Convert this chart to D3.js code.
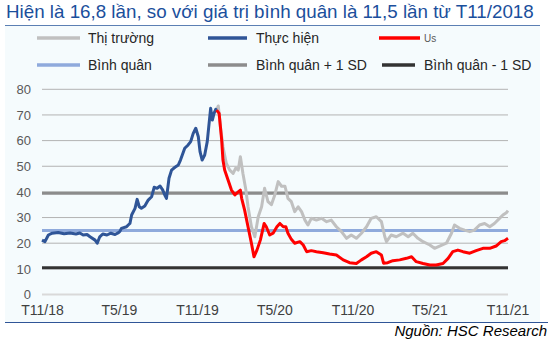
<!DOCTYPE html>
<html>
<head>
<meta charset="utf-8">
<script src="https://cdn.jsdelivr.net/npm/d3@7"></script>
<style>
  body { margin: 0; background: #fff; }
  svg { display: block; font-family: "Liberation Sans", Arial, sans-serif; }
</style>
</head>
<body>
<div id="chart"></div>
<script>
// Chart values
const titleText = 'Hiện là 16,8 lần, so với giá trị bình quân là 11,5 lần từ T11/2018';
const sourceText = 'Nguồn: HSC Research';

const yTicks = [0, 10, 20, 30, 40, 50, 60, 70, 80];
const xTickDates = ['2018-11-01', '2019-05-01', '2019-11-01', '2020-05-01', '2020-11-01', '2021-05-01', '2021-11-01'];
const xTickLabels = ['T11/18', 'T5/19', 'T11/19', 'T5/20', 'T11/20', 'T5/21', 'T11/21'];

const meanValue = 25;
const plusSdValue = 39.5;
const minusSdValue = 10.45;

// Thực hiện (blue)
const actualDates = ['2018-11-01','2018-11-08','2018-11-16','2018-11-25','2018-12-09','2018-12-23','2019-01-06','2019-01-20','2019-01-29','2019-02-06','2019-02-15','2019-02-22','2019-03-06','2019-03-11','2019-03-17','2019-03-24','2019-04-03','2019-04-12','2019-04-22','2019-04-29','2019-05-03','2019-05-07','2019-05-19','2019-05-23','2019-05-27','2019-05-31','2019-06-08','2019-06-13','2019-06-18','2019-06-23','2019-07-01','2019-07-09','2019-07-17','2019-07-23','2019-07-30','2019-08-06','2019-08-12','2019-08-17','2019-08-21','2019-08-27','2019-09-02','2019-09-10','2019-09-18','2019-09-23','2019-10-03','2019-10-11','2019-10-17','2019-10-23','2019-10-29','2019-11-04','2019-11-08','2019-11-13','2019-11-19','2019-11-25','2019-11-29','2019-12-03','2019-12-07','2019-12-11','2019-12-15','2019-12-17'];
const actualValues = [21.2,20.6,23.2,23.9,24.2,23.7,24.0,23.6,24.0,23.2,23.4,22.5,21.2,20.0,22.5,23.6,23.2,23.9,23.4,24.0,24.5,25.8,26.4,27.1,27.7,31.0,33.6,37.1,34.2,33.6,34.5,36.8,38.1,41.8,41.4,42.3,40.8,38.8,37.5,45.3,48.5,49.6,50.5,52.4,57.0,58.3,59.6,62.8,64.8,61.5,55.7,52.4,54.4,59.6,66.1,72.6,68.0,70.6,72.2,71.9];

// Us (red)
const usDates = ['2019-12-17','2019-12-23','2019-12-29','2020-01-01','2020-01-05','2020-01-13','2020-01-21','2020-01-29','2020-02-06','2020-02-11','2020-02-14','2020-02-21','2020-02-29','2020-03-08','2020-03-14','2020-03-21','2020-03-29','2020-04-07','2020-04-12','2020-04-20','2020-04-28','2020-05-07','2020-05-14','2020-05-22','2020-05-28','2020-06-02','2020-06-10','2020-06-18','2020-06-30','2020-07-08','2020-07-16','2020-07-27','2020-08-08','2020-08-24','2020-09-08','2020-09-24','2020-10-10','2020-10-25','2020-11-10','2020-11-22','2020-12-04','2020-12-15','2020-12-27','2021-01-08','2021-01-13','2021-01-23','2021-02-04','2021-02-20','2021-03-08','2021-03-20','2021-03-31','2021-04-16','2021-05-02','2021-05-17','2021-06-02','2021-06-14','2021-06-25','2021-07-07','2021-07-19','2021-08-04','2021-08-19','2021-09-04','2021-09-20','2021-10-05','2021-10-17','2021-10-25','2021-11-02'];
const usValues = [71.9,70.6,60.2,52.4,48.5,44.6,40.7,38.8,40.0,40.7,37.5,32.9,26.4,20.0,14.7,17.3,21.2,27.7,26.4,23.2,23.9,26.4,27.7,26.4,26.4,23.9,21.5,20.0,20.6,19.3,16.7,17.1,16.7,16.3,15.8,15.4,13.5,12.4,12.1,13.5,14.7,16.1,16.7,15.4,12.2,12.4,13.2,13.5,14.1,14.7,12.8,12.1,11.5,11.5,12.1,14.1,16.7,17.3,16.7,16.1,17.1,18.0,18.0,18.9,20.6,21.0,21.9];

// Thị trường (light gray)
const marketDates = ['2019-12-17','2019-12-21','2019-12-26','2020-01-01','2020-01-09','2020-01-17','2020-01-25','2020-01-31','2020-02-06','2020-02-11','2020-02-17','2020-02-24','2020-02-29','2020-03-08','2020-03-16','2020-03-24','2020-04-01','2020-04-08','2020-04-16','2020-04-24','2020-05-02','2020-05-10','2020-05-18','2020-05-26','2020-06-02','2020-06-10','2020-06-18','2020-06-26','2020-07-04','2020-07-12','2020-07-19','2020-07-27','2020-08-08','2020-08-20','2020-09-01','2020-09-12','2020-09-24','2020-10-06','2020-10-18','2020-10-29','2020-11-10','2020-11-22','2020-12-04','2020-12-15','2020-12-27','2021-01-08','2021-01-16','2021-01-20','2021-01-31','2021-02-12','2021-02-28','2021-03-12','2021-03-23','2021-04-04','2021-04-16','2021-05-02','2021-05-13','2021-05-25','2021-06-10','2021-06-22','2021-06-29','2021-07-11','2021-07-23','2021-08-04','2021-08-15','2021-08-27','2021-09-08','2021-09-20','2021-10-01','2021-10-13','2021-10-21','2021-10-29','2021-11-02'];
const marketValues = [72.0,73.5,65.4,57.6,51.1,48.5,47.2,49.3,48.5,53.7,47.2,40.7,34.2,26.4,22.5,30.3,34.2,41.4,36.2,35.0,38.8,44.0,42.2,42.2,37.5,36.2,32.3,34.2,32.3,29.0,27.1,29.7,29.0,29.7,28.4,29.0,26.4,24.5,21.9,23.2,21.9,23.9,26.4,29.7,30.3,28.4,22.5,20.6,23.2,22.5,23.9,22.5,23.9,21.9,20.6,19.3,18.0,18.9,20.0,23.9,27.1,25.8,25.1,24.5,25.1,27.1,27.7,26.4,27.7,29.7,31.0,31.9,32.7];

const legendItems = [
  { label: 'Thị trường', color: '#c0c0c0', row: 0, x: 37, w: 43, tx: 88 },
  { label: 'Thực hiện', color: '#2f5597', row: 0, x: 208, w: 39, tx: 256 },
  { label: 'Us', color: '#ff0000', row: 0, x: 379, w: 41, tx: 424, small: true },
  { label: 'Bình quân', color: '#8faadc', row: 1, x: 37, w: 43, tx: 88 },
  { label: 'Bình quân + 1 SD', color: '#8c8c8c', row: 1, x: 208, w: 39, tx: 256 },
  { label: 'Bình quân - 1 SD', color: '#333333', row: 1, x: 382, w: 33, tx: 424 }
];

const W = 553, H = 351;
const parse = d3.timeParse('%Y-%m-%d');

const svg = d3.select('#chart').append('svg')
  .attr('width', W)
  .attr('height', H);

// panel background
svg.append('rect')
  .attr('x', 5).attr('y', 26)
  .attr('width', 535).attr('height', 296)
  .attr('fill', '#f5fbfd');

// title - sized so it spans the same width as in the picture
const title = svg.append('text')
  .attr('x', 6).attr('y', 18)
  .attr('fill', '#1b4f9c')
  .attr('font-size', '16px')
  .text(titleText);
const titleLen = title.node().getComputedTextLength();
title.attr('font-size', (16 * 528 / titleLen).toFixed(2) + 'px');

svg.append('line')
  .attr('x1', 5).attr('x2', 540)
  .attr('y1', 25.5).attr('y2', 25.5)
  .attr('stroke', '#5b7fb3')
  .attr('stroke-width', 1.2);

// legend
const rowY = [38, 65];
const legend = svg.append('g').attr('class', 'legend');
legendItems.forEach(d => {
  legend.append('line')
    .attr('x1', d.x).attr('x2', d.x + d.w)
    .attr('y1', rowY[d.row]).attr('y2', rowY[d.row])
    .attr('stroke', d.color)
    .attr('stroke-width', 3.5);
  legend.append('text')
    .attr('x', d.tx)
    .attr('y', rowY[d.row] + (d.small ? 3.5 : 5))
    .attr('fill', d.small ? '#595959' : '#262626')
    .attr('font-size', d.small ? '10px' : '14px')
    .text(d.label);
});

// scales
const x = d3.scaleTime()
  .domain([parse('2018-11-01'), parse('2021-11-02')])
  .range([42, 508]);

const y = d3.scaleLinear()
  .domain([0, 80])
  .range([294.5, 89.3]);

// gridlines
const grid = svg.append('g').attr('class', 'grid');
grid.selectAll('line')
  .data(yTicks)
  .join('line')
  .attr('x1', 42).attr('x2', 508)
  .attr('y1', d => y(d)).attr('y2', d => y(d))
  .attr('stroke', d => d === 0 ? '#d9d9d9' : '#b3b3b3')
  .attr('stroke-width', d => d === 0 ? 2 : 1);

// y axis
const yAxis = d3.axisLeft(y)
  .tickValues(yTicks)
  .tickSize(0)
  .tickPadding(0);
svg.append('g')
  .attr('transform', 'translate(31,0)')
  .call(yAxis)
  .call(g => g.select('.domain').remove())
  .selectAll('text')
  .attr('fill', '#595959')
  .attr('font-size', '13px')
  .attr('font-family', '"Liberation Sans", Arial, sans-serif');

// x axis
const xAxis = d3.axisBottom(x)
  .tickValues(xTickDates.map(parse))
  .tickFormat((d, i) => xTickLabels[i])
  .tickSize(0)
  .tickPadding(0);
svg.append('g')
  .attr('transform', 'translate(0,305)')
  .call(xAxis)
  .call(g => g.select('.domain').remove())
  .selectAll('text')
  .attr('fill', '#404040')
  .attr('font-size', '14px')
  .attr('font-family', '"Liberation Sans", Arial, sans-serif');

// reference lines
const refs = [
  { v: plusSdValue, color: '#8c8c8c' },
  { v: minusSdValue, color: '#333333' },
  { v: meanValue, color: '#8faadc' }
];
svg.append('g').selectAll('line')
  .data(refs)
  .join('line')
  .attr('x1', 42).attr('x2', 508)
  .attr('y1', d => y(d.v)).attr('y2', d => y(d.v))
  .attr('stroke', d => d.color)
  .attr('stroke-width', 3);

// series
const line = d3.line()
  .x(d => x(d.date))
  .y(d => y(d.value));

const toPoints = (dates, values) => dates.map((d, i) => ({ date: parse(d), value: values[i] }));

const series = [
  { points: toPoints(marketDates, marketValues), color: '#c0c0c0' },
  { points: toPoints(actualDates, actualValues), color: '#2f5597' },
  { points: toPoints(usDates, usValues), color: '#ff0000' }
];

svg.append('g').selectAll('path')
  .data(series)
  .join('path')
  .attr('d', d => line(d.points))
  .attr('fill', 'none')
  .attr('stroke', d => d.color)
  .attr('stroke-width', 3)
  .attr('stroke-linejoin', 'round');

// bottom rule and source
svg.append('line')
  .attr('x1', 5).attr('x2', 548)
  .attr('y1', 322.5).attr('y2', 322.5)
  .attr('stroke', '#2f5597')
  .attr('stroke-width', 1.2);

svg.append('text')
  .attr('x', 547).attr('y', 336)
  .attr('text-anchor', 'end')
  .attr('font-style', 'italic')
  .attr('font-size', '15px')
  .attr('fill', '#000')
  .text(sourceText);
</script>
</body>
</html>
